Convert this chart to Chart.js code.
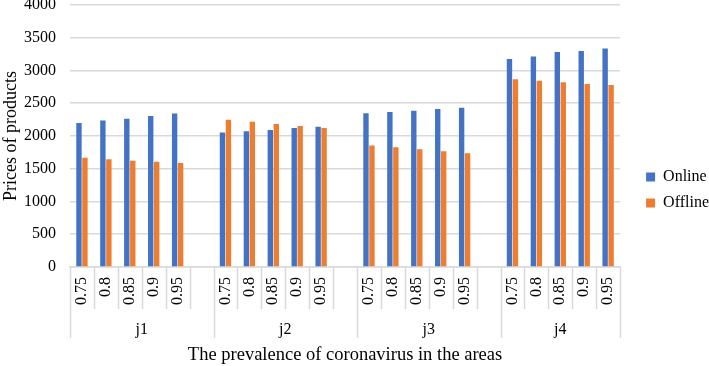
<!DOCTYPE html>
<html>
<head>
<meta charset="utf-8">
<script src="https://cdn.jsdelivr.net/npm/chart.js@4/dist/chart.umd.min.js"></script>
<style>
  html, body { margin: 0; padding: 0; background: #fff; }
  #wrap { width: 709px; height: 366px; }
</style>
</head>
<body>
<div id="wrap"><canvas id="prices_chart"></canvas></div>
<script>
// DATA
const groups = ['j1', 'j2', 'j3', 'j4'];
const levels = ['0.75', '0.8', '0.85', '0.9', '0.95'];
const online = [
  2195, 2235, 2260, 2305, 2340,
  2050, 2070, 2090, 2120, 2140,
  2345, 2365, 2385, 2410, 2430,
  3175, 3210, 3280, 3295, 3335
];
const offline = [
  1665, 1645, 1620, 1605, 1585,
  2245, 2215, 2180, 2150, 2120,
  1855, 1825, 1795, 1765, 1735,
  2865, 2840, 2820, 2790, 2775
];

const FONT = "'Liberation Serif', 'Times New Roman', serif";
const GRID = '#d9d9d9';

// build slots: 5 levels per group, blank slot between groups
let labels = [], onlineSlots = [], offlineSlots = [];
let groupStart = [], groupSize = [];
groups.forEach((g, gi) => {
  groupStart.push(labels.length);
  levels.forEach((lv, li) => {
    labels.push(lv);
    onlineSlots.push(online[gi * levels.length + li]);
    offlineSlots.push(offline[gi * levels.length + li]);
  });
  if (gi < groups.length - 1) {
    labels.push('');
    onlineSlots.push(null);
    offlineSlots.push(null);
  }
  groupSize.push(labels.length - groupStart[gi]);
});
const slotCount = labels.length;
const groupCenters = groupStart.map((s, i) => s + groupSize[i] / 2);
const groupEdges = groupStart.concat([slotCount]);

// separators of the two-level category axis
const separators = {
  id: 'separators',
  afterLayout(chart) {
    // legend sits a bit away from the plot, like the original
    chart.legend.left += 16;
    chart.legend.right += 16;
    chart.legend.top += 7;
    chart.legend.bottom += 7;
  },
  afterDraw(chart) {
    const c = chart.ctx;
    const x2 = chart.scales.x2;
    const y0 = chart.chartArea.bottom;
    c.save();
    c.strokeStyle = GRID;
    c.lineWidth = 1.5;
    for (let i = 0; i <= slotCount; i++) {
      const px = Math.round(x2.getPixelForValue(i)) + 0.5;
      const yEnd = groupEdges.includes(i) ? x2.top + 28 : y0 + 42;
      c.beginPath();
      c.moveTo(px, y0);
      c.lineTo(px, yEnd);
      c.stroke();
    }
    c.restore();
  }
};

const ctx = document.getElementById('prices_chart').getContext('2d');

new Chart(ctx, {
  type: 'bar',
  data: {
    labels: labels,
    datasets: [{
      label: 'Online',
      data: onlineSlots,
      backgroundColor: '#4472C4',
      categoryPercentage: 0.5,
      barPercentage: 0.9
    }, {
      label: 'Offline',
      data: offlineSlots,
      backgroundColor: '#ED7D31',
      categoryPercentage: 0.5,
      barPercentage: 0.9
    }]
  },
  plugins: [separators],
  options: {
    responsive: true,
    maintainAspectRatio: false,
    animation: false,
    layout: { padding: { top: 0, right: 6, left: 0, bottom: 0 } },
    plugins: {
      tooltip: { enabled: false },
      legend: {
        position: 'right',
        labels: {
          font: { family: FONT, size: 16 },
          color: '#000',
          boxWidth: 9,
          boxHeight: 9,
          padding: 10
        }
      }
    },
    scales: {
      y: {
        min: 0,
        max: 4000,
        afterFit: axis => { axis.width = 70; },
        ticks: {
          stepSize: 500,
          font: { family: FONT, size: 16, lineHeight: 0.6 },
          color: '#000',
          padding: 0,
          callback: v => String(v)
        },
        grid: { color: GRID, lineWidth: 1.5, drawTicks: true, tickLength: 14, tickColor: 'rgba(0,0,0,0)' },
        border: { display: false },
        title: {
          display: true,
          text: 'Prices of products',
          font: { family: FONT, size: 18 },
          color: '#000',
          padding: { top: 0, bottom: 0 }
        }
      },
      x: {
        afterFit: axis => { axis.height = 43; },
        ticks: {
          autoSkip: false,
          minRotation: 90,
          maxRotation: 90,
          font: { family: FONT, size: 16 },
          color: '#000',
          padding: 10
        },
        grid: { display: false, drawTicks: false },
        border: { display: true, color: GRID, width: 1.5 }
      },
      x2: {
        type: 'linear',
        position: 'bottom',
        min: 0,
        max: slotCount,
        offset: false,
        afterFit: axis => { axis.height = 56; },
        afterBuildTicks: axis => {
          axis.ticks = groupCenters.map(v => ({ value: v }));
        },
        ticks: {
          autoSkip: false,
          maxRotation: 0,
          font: { family: FONT, size: 16 },
          color: '#000',
          padding: 10,
          callback: value => {
            const i = groupCenters.indexOf(value);
            return i >= 0 ? groups[i] : '';
          }
        },
        grid: { display: false, drawTicks: false },
        border: { display: false },
        title: {
          display: true,
          text: 'The prevalence of coronavirus in the areas',
          font: { family: FONT, size: 18.5 },
          color: '#000',
          padding: { top: 0, bottom: 0 }
        }
      }
    }
  }
});
</script>
</body>
</html>
